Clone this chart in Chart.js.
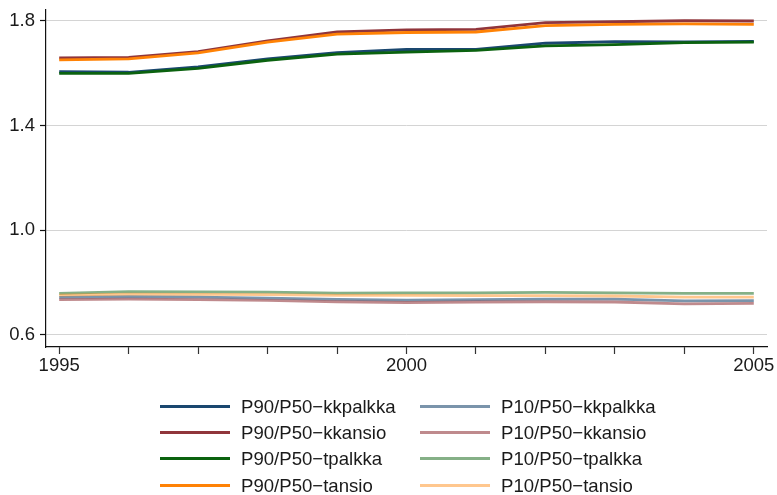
<!DOCTYPE html>
<html>
<head>
<meta charset="utf-8">
<script src="https://cdn.jsdelivr.net/npm/chart.js@4/dist/chart.umd.min.js"></script>
<style>
  html, body { margin:0; padding:0; background:#fff; }
  #wrap { position:relative; width:777px; height:495px; overflow:hidden; }
  #legend { position:absolute; left:0; top:0; width:777px; height:495px; pointer-events:none;
            font-family:'Liberation Sans', Arial, sans-serif; font-size:18.6px; color:#1a1a1a; }
  .li { position:absolute; height:22px; line-height:22px; white-space:nowrap; }
  .sw { position:absolute; left:0; top:9px; width:70px; height:3px; }
  .tx { position:absolute; left:81px; top:0; }
</style>
</head>
<body>
<div id="wrap">
  <canvas id="c" width="777" height="495"></canvas>
  <div id="legend"></div>
</div>
<script>
// ---- data ----
const years = [1995, 1996, 1997, 1998, 1999, 2000, 2001, 2002, 2003, 2004, 2005];
const xTickLabels = [1995, 2000, 2005];
const yTickValues = [0.6, 1.0, 1.4, 1.8];

const p90_kkpalkka = [1.606, 1.604, 1.625, 1.655, 1.679, 1.691, 1.691, 1.715, 1.721, 1.720, 1.722];
const p90_kkansio  = [1.659, 1.661, 1.683, 1.724, 1.758, 1.766, 1.768, 1.794, 1.797, 1.801, 1.800];
const p90_tpalkka  = [1.600, 1.600, 1.619, 1.650, 1.673, 1.681, 1.688, 1.705, 1.710, 1.717, 1.719];
const p90_tansio   = [1.651, 1.655, 1.678, 1.719, 1.750, 1.756, 1.758, 1.782, 1.787, 1.789, 1.787];
const p10_kkpalkka = [0.744, 0.746, 0.745, 0.741, 0.736, 0.733, 0.735, 0.737, 0.737, 0.730, 0.731];
const p10_kkansio  = [0.735, 0.737, 0.735, 0.732, 0.727, 0.724, 0.726, 0.727, 0.726, 0.719, 0.721];
const p10_tpalkka  = [0.759, 0.766, 0.765, 0.764, 0.760, 0.761, 0.761, 0.763, 0.761, 0.759, 0.759];
const p10_tansio   = [0.752, 0.756, 0.755, 0.754, 0.751, 0.751, 0.750, 0.750, 0.749, 0.745, 0.745];

const seriesLabels = [
  'P90/P50\u2212kkpalkka', 'P90/P50\u2212kkansio', 'P90/P50\u2212tpalkka', 'P90/P50\u2212tansio',
  'P10/P50\u2212kkpalkka', 'P10/P50\u2212kkansio', 'P10/P50\u2212tpalkka', 'P10/P50\u2212tansio'
];
const seriesValues = [p90_kkpalkka, p90_kkansio, p90_tpalkka, p90_tansio,
                      p10_kkpalkka, p10_kkansio, p10_tpalkka, p10_tansio];
const seriesColors = [
  '#1a476f', '#90353b', '#0b620f', '#ff8205',
  'rgba(26,71,111,0.58)', 'rgba(144,53,59,0.58)', 'rgba(11,98,15,0.5)', 'rgba(255,130,5,0.45)'
];

// ---- chart ----
const FONT = { family: "'Liberation Sans', Arial, sans-serif", size: 18.5 };
const datasets = seriesLabels.map((lab, i) => ({
  label: lab,
  data: years.map((y, j) => ({ x: y, y: seriesValues[i][j] })),
  borderColor: seriesColors[i],
  backgroundColor: seriesColors[i],
  borderWidth: 2.8,
  pointRadius: 0,
  tension: 0,
  fill: false,
  order: 7 - i
}));

new Chart(document.getElementById('c'), {
  type: 'line',
  data: { datasets },
  options: {
    responsive: false,
    animation: false,
    devicePixelRatio: 1,
    layout: { padding: { top: 10, right: 10, bottom: 108, left: 0 } },
    plugins: { legend: { display: false }, tooltip: { enabled: false } },
    scales: {
      x: {
        type: 'linear',
        min: 1994.81, max: 2005.19,
        afterBuildTicks: s => { s.ticks = years.map(v => ({ value: v })); },
        afterFit: s => { s.height = 40; s.paddingLeft = 0; s.paddingRight = 0; s.paddingTop = 0; s.paddingBottom = 0; },
        ticks: {
          autoSkip: false, maxRotation: 0, padding: 1,
          color: '#1a1a1a', font: FONT,
          callback: v => xTickLabels.includes(v) ? String(v) : ''
        },
        grid: { drawOnChartArea: false, drawTicks: true, tickLength: 7, tickColor: '#333', tickWidth: 1.2 },
        border: { display: true, color: '#111', width: 1.2 }
      },
      y: {
        type: 'linear',
        min: 0.554, max: 1.842,
        afterBuildTicks: s => { s.ticks = yTickValues.map(v => ({ value: v })); },
        afterFit: s => { s.width = 46; s.paddingTop = 0; s.paddingBottom = 0; s.paddingLeft = 0; s.paddingRight = 0; },
        ticks: {
          autoSkip: false, padding: 5,
          color: '#1a1a1a', font: FONT,
          callback: v => Number(v).toFixed(1)
        },
        grid: { color: '#d4d4d4', lineWidth: 1, drawTicks: true, tickLength: 6, tickColor: '#111', tickWidth: 1.2 },
        border: { display: true, color: '#111', width: 1.2 }
      }
    }
  }
});

// ---- legend (two columns: P90 left, P10 right) ----
const leg = document.getElementById('legend');
const colX = [160, 420];
const rowY = [396, 422, 448, 475];
seriesLabels.forEach((lab, i) => {
  const col = i < 4 ? 0 : 1, row = i % 4;
  const d = document.createElement('div');
  d.className = 'li';
  d.style.left = colX[col] + 'px';
  d.style.top = rowY[row] + 'px';
  const sw = document.createElement('div');
  sw.className = 'sw';
  sw.style.background = seriesColors[i];
  const tx = document.createElement('div');
  tx.className = 'tx';
  tx.textContent = lab;
  d.appendChild(sw); d.appendChild(tx);
  leg.appendChild(d);
});
</script>
</body>
</html>
